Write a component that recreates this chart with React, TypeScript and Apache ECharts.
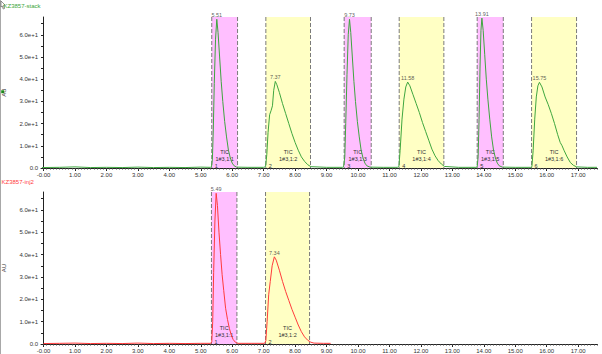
import React, { useEffect, useRef } from "react";
import * as echarts from "echarts";

const FONT = "Liberation Sans, Arial, sans-serif";

// axis ticks
const xTickValues = [0, 1, 2, 3, 4, 5, 6, 7, 8, 9, 10, 11, 12, 13, 14, 15, 16, 17];
const xTickLabels = ["-0.00", "1.00", "2.00", "3.00", "4.00", "5.00", "6.00", "7.00", "8.00", "9.00", "10.00", "11.00", "12.00", "13.00", "14.00", "15.00", "16.00", "17.00"];
const yTickValues = [0, 10, 20, 30, 40, 50, 60];
const yTickLabels = ["0.0", "1.0e+1", "2.0e+1", "3.0e+1", "4.0e+1", "5.0e+1", "6.0e+1"];
const yMinorTickValues = [0, 5, 10, 15, 20, 25, 30, 35, 40, 45, 50, 55, 60, 65];
const X_MIN = -0.08;
const X_MAX = 17.6;
const Y_MAX = 68;

// top trace (KZ3857-stack)
const topTrace = [
  [-0.05, 0.2], [0.5, 0.3], [1.0, 0.5], [1.5, 0.2], [2.0, 0.3], [2.5, 0.2], [3.0, 0.4], [3.5, 0.2], [4.0, 0.3], [4.5, 0.2], [5.0, 0.4], [5.3, 0.3],
  [5.34, 0.5], [5.37, 4], [5.40, 18], [5.43, 38], [5.47, 58], [5.51, 67], [5.55, 61], [5.60, 50], [5.65, 39], [5.70, 30], [5.76, 21], [5.82, 14], [5.88, 8], [5.94, 4.5], [6.00, 2.2], [6.06, 1], [6.14, 0.4],
  [6.5, 0.3], [7.0, 0.3],
  [7.06, 0.6], [7.10, 6], [7.14, 16], [7.19, 24], [7.24, 26], [7.28, 28], [7.32, 35], [7.37, 39], [7.42, 37.5], [7.5, 34], [7.6, 29], [7.7, 24.5], [7.8, 20], [7.9, 15.5], [8.0, 11.5], [8.1, 8], [8.2, 5], [8.3, 3], [8.4, 1.5], [8.5, 0.6],
  [9.0, 0.3], [9.5, 0.3],
  [9.54, 0.5], [9.58, 5], [9.61, 20], [9.65, 42], [9.69, 60], [9.73, 67], [9.77, 61], [9.82, 50], [9.87, 39], [9.92, 30], [9.98, 21], [10.04, 14], [10.10, 8], [10.16, 4.5], [10.22, 2.2], [10.28, 1], [10.38, 0.4],
  [10.8, 0.3], [11.25, 0.3],
  [11.30, 0.6], [11.34, 8], [11.40, 22], [11.46, 31], [11.52, 36.5], [11.58, 38.7], [11.65, 37], [11.75, 33], [11.85, 29], [11.95, 25], [12.05, 20.5], [12.15, 16.5], [12.25, 12.5], [12.35, 8.5], [12.45, 5.5], [12.55, 3.3], [12.65, 1.8], [12.75, 0.7],
  [13.2, 0.3], [13.75, 0.3],
  [13.79, 0.5], [13.82, 5], [13.85, 22], [13.88, 45], [13.91, 62], [13.94, 67.5], [13.98, 62], [14.03, 51], [14.08, 40], [14.13, 31], [14.19, 22], [14.25, 14], [14.31, 8], [14.37, 4.5], [14.43, 2.2], [14.49, 1], [14.59, 0.4],
  [15.0, 0.3], [15.5, 0.3],
  [15.53, 0.6], [15.57, 8], [15.62, 22], [15.67, 32], [15.72, 37], [15.77, 38.6], [15.85, 36.5], [15.95, 32], [16.05, 28.5], [16.15, 24.5], [16.25, 20], [16.35, 15], [16.43, 11.5], [16.49, 10], [16.55, 8], [16.65, 5], [16.75, 2.5], [16.85, 1.2], [16.95, 0.5],
  [17.3, 0.3], [17.6, 0.3],
];

// bottom trace (KZ3857-inj2)
const bottomTrace = [
  [0, 0.2], [0.5, 0.3], [1.0, 0.4], [1.5, 0.2], [2.0, 0.3], [2.5, 0.2], [3.0, 0.4], [3.5, 0.2], [4.0, 0.3], [4.5, 0.2], [5.0, 0.3], [5.32, 0.3],
  [5.35, 1], [5.38, 10], [5.41, 32], [5.45, 55], [5.49, 67.4], [5.53, 62], [5.58, 50], [5.63, 40], [5.68, 31], [5.73, 24], [5.79, 16], [5.85, 11], [5.91, 7], [5.97, 4], [6.03, 2], [6.10, 0.8], [6.17, 0.3],
  [6.6, 0.3], [7.03, 0.3],
  [7.07, 1.5], [7.11, 10], [7.16, 22], [7.21, 28], [7.27, 35], [7.34, 39], [7.40, 37.5], [7.5, 33], [7.6, 28], [7.7, 23.5], [7.8, 19.5], [7.9, 15.5], [8.0, 12], [8.1, 8.5], [8.2, 5.5], [8.3, 3.2], [8.4, 1.7], [8.5, 0.8], [8.6, 0.4], [8.9, 0.3], [9.13, 0.3],
];

// peak labels
const topPeakTimes = [5.51, 7.37, 9.73, 11.58, 13.94, 15.77];
const topPeakHeights = [67, 39, 67, 38.7, 67.5, 38.6];
const topPeakLabels = ["5.51", "7.37", "9.73", "11.58", "13.91", "15.75"];
const bottomPeakTimes = [5.49, 7.34];
const bottomPeakHeights = [67.4, 39];
const bottomPeakLabels = ["5.49", "7.34"];

// integration regions
const topRegionStart = [5.35, 7.07, 9.56, 11.31, 13.79, 15.52];
const topRegionEnd = [6.17, 8.49, 10.42, 12.73, 14.62, 16.95];
const topRegionNames = ["1#3,1:1", "1#3,1:2", "1#3,1:3", "1#3,1:4", "1#3,1:5", "1#3,1:6"];
const topRegionNumbers = ["1", "2", "3", "4", "5", "6"];
const bottomRegionStart = [5.34, 7.06];
const bottomRegionEnd = [6.15, 8.46];
const bottomRegionNames = ["1#3,1:1", "1#3,1:2"];
const bottomRegionNumbers = ["1", "2"];

const PINK = "#ffbfff";
const YELLOW = "#ffffc4";

function makeRegionRender(names: string[], numbers: string[]) {
  return (params: any, api: any) => {
    const x0 = api.value(0);
    const x1 = api.value(1);
    const idx = api.value(2);
    const p0 = api.coord([x0, Y_MAX]);
    const p1 = api.coord([x1, 0]);
    const fill = idx % 2 === 0 ? PINK : YELLOW;
    const cx = (p0[0] + p1[0]) / 2;
    const dash = { stroke: "#7a7a7a", lineWidth: 1, lineDash: [4, 2] };
    const txt = (text: string, x: number, y: number, align: string) => ({
      type: "text",
      x,
      y,
      style: { text, align, verticalAlign: "middle", fontSize: 5.5, fontFamily: FONT, fill: "#333" },
    });
    return {
      type: "group",
      children: [
        { type: "rect", shape: { x: p0[0], y: p0[1], width: p1[0] - p0[0], height: p1[1] - p0[1] }, style: { fill } },
        { type: "line", shape: { x1: p0[0], y1: p0[1], x2: p0[0], y2: p1[1] }, style: dash },
        { type: "line", shape: { x1: p1[0], y1: p0[1], x2: p1[0], y2: p1[1] }, style: dash },
        txt("TIC", cx, p1[1] - 16, "center"),
        txt(names[idx], cx, p1[1] - 9.5, "center"),
        txt(numbers[idx], p0[0] + 3, p1[1] - 2.5, "left"),
      ],
    };
  };
}

const minorXTicks: number[] = [];
for (let i = 0; i <= 176; i++) minorXTicks.push(Math.round(i * 10) / 100);

function xAxes(gridIndex: number) {
  return [
    {
      type: "value",
      gridIndex,
      min: X_MIN,
      max: X_MAX,
      position: "bottom",
      axisLine: { show: true, onZero: false, lineStyle: { color: "#222", width: 1 } },
      axisTick: { show: true, customValues: xTickValues, length: 3, lineStyle: { color: "#222" } },
      axisLabel: {
        show: true,
        customValues: xTickValues,
        margin: 4,
        fontSize: 6,
        fontFamily: FONT,
        color: "#333",
        formatter: (v: number) => xTickLabels[xTickValues.indexOf(Math.round(v))] ?? "",
      },
      splitLine: { show: false },
    },
    {
      type: "value",
      gridIndex,
      min: X_MIN,
      max: X_MAX,
      position: "bottom",
      axisLine: { show: false, onZero: false },
      axisTick: { show: true, customValues: minorXTicks, length: 1.5, lineStyle: { color: "#444" } },
      axisLabel: { show: false },
      splitLine: { show: false },
    },
  ];
}

function yAxis(gridIndex: number) {
  return {
    type: "value",
    gridIndex,
    min: 0,
    max: Y_MAX,
    name: "AU",
    nameLocation: "middle",
    nameGap: 34,
    nameRotate: 90,
    nameTextStyle: { fontSize: 6, fontFamily: FONT, color: "#333" },
    axisLine: { show: true, lineStyle: { color: "#222", width: 1 } },
    axisTick: { show: true, customValues: yMinorTickValues, length: 2.5, lineStyle: { color: "#222" } },
    axisLabel: {
      show: true,
      customValues: yTickValues,
      margin: 3,
      fontSize: 6,
      fontFamily: FONT,
      color: "#333",
      formatter: (v: number) => yTickLabels[yTickValues.indexOf(Math.round(v))] ?? "",
    },
    splitLine: { show: false },
  };
}

export default function App() {
  const ref = useRef<HTMLDivElement>(null);
  useEffect(() => {
    if (!ref.current) return;
    const chart = echarts.init(ref.current, undefined, { renderer: "svg" });
    const peakLabel = (labels: string[]) => ({
      show: true,
      position: "top",
      distance: 1,
      fontSize: 5.5,
      fontFamily: FONT,
      color: "#333",
      formatter: (p: any) => labels[p.dataIndex],
    });
    chart.setOption({
      animation: false,
      backgroundColor: "#ffffff",
      grid: [
        { left: 41, right: 5, top: 17, height: 151, containLabel: false, outerBoundsMode: "none" },
        { left: 41, right: 5, top: 192, height: 152, containLabel: false, outerBoundsMode: "none" },
      ],
      xAxis: [...xAxes(0), ...xAxes(1)],
      yAxis: [yAxis(0), yAxis(1)],
      series: [
        {
          type: "custom",
          xAxisIndex: 0,
          yAxisIndex: 0,
          z: 1,
          clip: false,
          renderItem: makeRegionRender(topRegionNames, topRegionNumbers),
          data: topRegionStart.map((s, i) => [s, topRegionEnd[i], i]),
          encode: { x: [0, 1] },
          silent: true,
        },
        {
          type: "custom",
          xAxisIndex: 2,
          yAxisIndex: 1,
          z: 1,
          clip: false,
          renderItem: makeRegionRender(bottomRegionNames, bottomRegionNumbers),
          data: bottomRegionStart.map((s, i) => [s, bottomRegionEnd[i], i]),
          encode: { x: [0, 1] },
          silent: true,
        },
        {
          type: "line",
          xAxisIndex: 0,
          yAxisIndex: 0,
          z: 3,
          data: topTrace,
          showSymbol: false,
          lineStyle: { color: "#3fa63f", width: 1 },
        },
        {
          type: "line",
          xAxisIndex: 2,
          yAxisIndex: 1,
          z: 3,
          data: bottomTrace,
          showSymbol: false,
          lineStyle: { color: "#ff3b3b", width: 1 },
        },
        {
          type: "scatter",
          xAxisIndex: 0,
          yAxisIndex: 0,
          z: 4,
          symbolSize: 0,
          data: topPeakTimes.map((t, i) => [t, topPeakHeights[i]]),
          label: peakLabel(topPeakLabels),
        },
        {
          type: "scatter",
          xAxisIndex: 2,
          yAxisIndex: 1,
          z: 4,
          symbolSize: 0,
          data: bottomPeakTimes.map((t, i) => [t, bottomPeakHeights[i]]),
          label: peakLabel(bottomPeakLabels),
        },
      ],
      graphic: [
        { type: "line", shape: { x1: 0.5, y1: 0, x2: 0.5, y2: 354 }, style: { stroke: "#a8a8a8", lineWidth: 1 } },
        {
          type: "polygon",
          shape: { points: [[1, 1], [5, 5], [3.5, 5.5], [4.5, 8.5], [3.2, 9], [2.3, 6], [1, 7]] },
          style: { fill: "#ffffff", stroke: "#666", lineWidth: 0.7 },
        },
        {
          type: "text",
          x: 3.5,
          y: 6,
          style: { text: "KZ3857-stack", fontSize: 6, fontFamily: FONT, fill: "#3aa53a", verticalAlign: "middle" },
        },
        {
          type: "text",
          x: 1.5,
          y: 182,
          style: { text: "KZ3857-inj2", fontSize: 6, fontFamily: FONT, fill: "#ff4040", verticalAlign: "middle" },
        },
        { type: "rect", shape: { x: 1.2, y: 90.2, width: 3, height: 3 }, style: { fill: "#1a9a1a" } },
      ],
    });
    return () => chart.dispose();
  }, []);
  return (
    <div
      ref={ref}
      style={{ position: "fixed", left: 0, top: 0, width: 602, height: 354, background: "#fff" }}
    />
  );
}
